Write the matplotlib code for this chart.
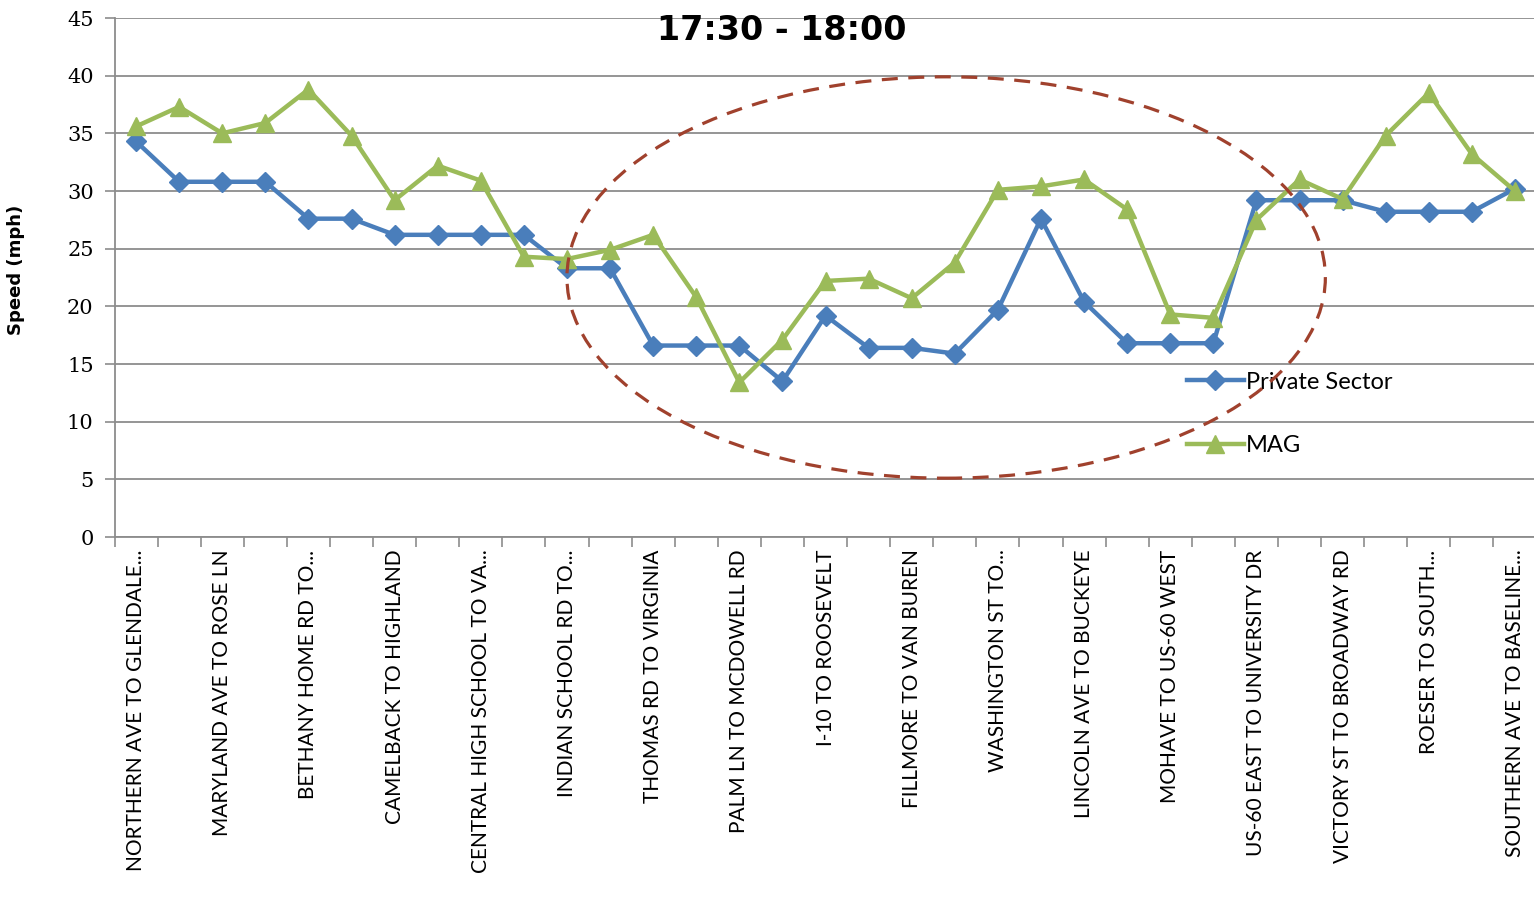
import numpy as np
import matplotlib
matplotlib.use("Agg")
from matplotlib import pyplot as plt
from matplotlib.patches import Ellipse
from matplotlib.ticker import FixedLocator, NullFormatter

# segment labels (only every other one is printed on the axis)
segments = [
    "NORTHERN AVE TO GLENDALE...", "", "MARYLAND AVE TO ROSE LN", "",
    "BETHANY HOME RD TO...", "", "CAMELBACK TO HIGHLAND", "",
    "CENTRAL HIGH SCHOOL TO VA...", "", "INDIAN SCHOOL RD TO...", "",
    "THOMAS RD TO VIRGINIA", "", "PALM LN TO MCDOWELL RD", "",
    "I-10 TO ROOSEVELT", "", "FILLMORE TO VAN BUREN", "",
    "WASHINGTON ST TO...", "", "LINCOLN AVE TO BUCKEYE", "",
    "MOHAVE TO US-60 WEST", "", "US-60 EAST TO UNIVERSITY DR", "",
    "VICTORY ST TO BROADWAY RD", "", "ROESER TO SOUTH...", "",
    "SOUTHERN AVE TO BASELINE...",
]

private_sector = [34.3, 30.8, 30.8, 30.8, 27.6, 27.6, 26.2, 26.2, 26.2, 26.2,
                  23.3, 23.3, 16.6, 16.6, 16.6, 13.5, 19.2, 16.4, 16.4, 15.9,
                  19.7, 27.6, 20.4, 16.8, 16.8, 16.8, 29.2, 29.2, 29.2, 28.2,
                  28.2, 28.2, 30.2]

mag = [35.6, 37.3, 35.0, 35.9, 38.8, 34.8, 29.2, 32.2, 30.9, 24.3,
       24.1, 24.9, 26.2, 20.8, 13.4, 17.1, 22.2, 22.4, 20.7, 23.8,
       30.1, 30.4, 31.0, 28.4, 19.3, 19.0, 27.5, 31.0, 29.3, 34.8,
       38.5, 33.2, 30.0]

title = "17:30 - 18:00"
ylabel = "Speed (mph)"

x = np.arange(len(segments))

fig = plt.figure(figsize=(15.34, 8.97), dpi=100)
ax = fig.add_axes([114.5 / 1534, 1 - 537 / 897, 1422 / 1534, 519 / 897])

ax.plot(x, private_sector, color="#4A7EBB", lw=3.2, marker="D", ms=10,
        label="Private Sector", zorder=3)
ax.plot(x, mag, color="#9BBB59", lw=3.2, marker="^", ms=13,
        label="MAG", zorder=4)

ax.set_xlim(-0.5, len(segments) - 0.5)
ax.set_ylim(0, 45)
ax.set_yticks(np.arange(0, 46, 5))
ax.yaxis.grid(True, color="#8c8c8c", lw=1.3)
ax.set_axisbelow(True)

for s in ["top", "right"]:
    ax.spines[s].set_visible(False)
for s in ["left", "bottom"]:
    ax.spines[s].set_color("#8c8c8c")
    ax.spines[s].set_linewidth(1.3)

# category labels, ticks between categories
ax.set_xticks(x)
ax.set_xticklabels(segments, rotation=90, fontsize=15, family="Lato")
ax.tick_params(axis="x", which="major", length=0, pad=9)
ax.xaxis.set_minor_locator(FixedLocator(np.arange(-0.5, len(segments), 1)))
ax.xaxis.set_minor_formatter(NullFormatter())
ax.tick_params(axis="x", which="minor", length=7, color="#8c8c8c", width=1.2)
ax.tick_params(axis="y", length=7, color="#8c8c8c", width=1.2, pad=8,
               labelsize=15)
for lab in ax.get_yticklabels():
    lab.set_family("DejaVu Serif")

ax.set_ylabel(ylabel, fontsize=13, fontweight="bold")
ax.yaxis.set_label_coords(-0.063, 0.514)

fig.text(782 / 1534, 1 - 30 / 897, title, fontsize=24, fontweight="bold",
         ha="center", va="center")

ax.legend(loc="center left", bbox_to_anchor=(1187 / 1534, 1 - 414 / 897),
          bbox_transform=fig.transFigure, frameon=False,
          prop={"family": "Lato", "size": 17},
          handlelength=2.4, handletextpad=0.1, labelspacing=1.8,
          borderpad=0, borderaxespad=0)

# dashed ellipse highlighting the evening slowdown
ell = Ellipse((18.8, 22.5), 17.6, 34.8, fill=False, edgecolor="#A0412D",
              lw=2.3, ls=(0, (5, 3.3)), zorder=6)
ax.add_patch(ell)

fig.savefig("out.png", dpi=100)
